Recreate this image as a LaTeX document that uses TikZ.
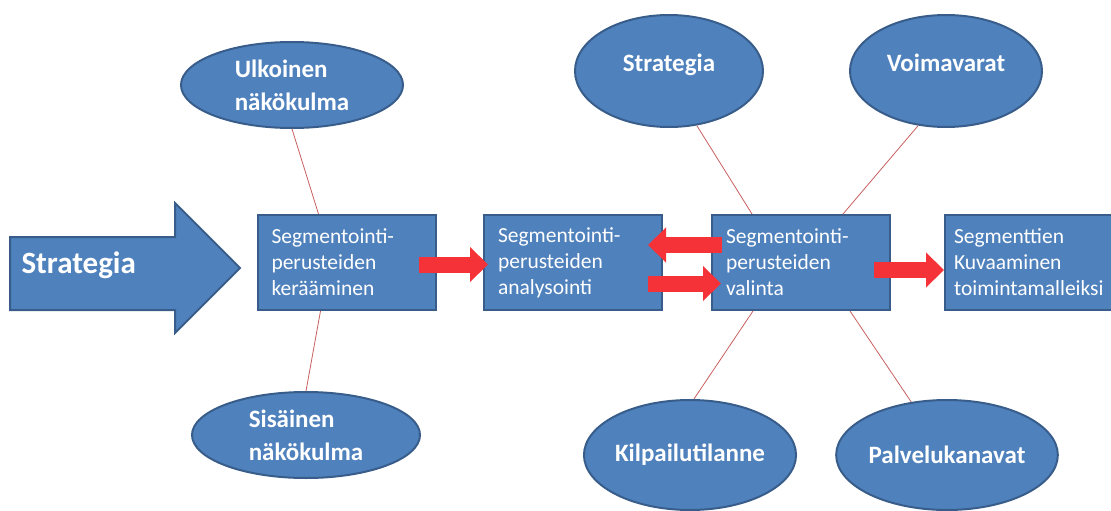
\documentclass[tikz,border=0pt]{standalone}
\usepackage{fontspec}
\setmainfont{Carlito}
\usetikzlibrary{shapes.geometric,arrows.meta}
\definecolor{boxblue}{RGB}{79,129,189}
\definecolor{edgeblue}{RGB}{56,93,138}
\definecolor{linkred}{RGB}{200,95,95}
\definecolor{arrowred}{RGB}{245,50,55}
\begin{document}
\begin{tikzpicture}[x=1pt, y=-1pt,
    stepbox/.style={draw=edgeblue, line width=2pt, fill=boxblue, text=white,
      minimum width=178pt, minimum height=95pt, text width=150pt, inner xsep=14pt,
      align=left, font=\fontsize{21.5}{26}\selectfont},
    view/.style={ellipse, draw=edgeblue, line width=2pt, fill=boxblue, text=white,
      inner sep=0pt, align=left, font=\bfseries\fontsize{25}{33}\selectfont},
    bigarrow/.style={draw=edgeblue, line width=2pt, fill=boxblue},
    link/.style={draw=linkred, line width=0.8pt},
    flow/.style={draw=arrowred, line width=16pt, -{Triangle[width=34pt,length=18pt]}}]
  \useasboundingbox (0,0) rectangle (1111,511);
  \draw[bigarrow] (10,237) -- (175,237) -- (175,203) -- (240,268) -- (175,333) -- (175,310) -- (10,310) -- cycle;
  \node[anchor=west, text=white, font=\bfseries\fontsize{31}{37}\selectfont] (input) at (18,265) {Strategia};
  \node[stepbox] (collect) at (346.5,262.5) {Segmentointi-\\perusteiden\\kerääminen};
  \node[stepbox] (analyse) at (573,262.5) {Segmentointi-\\perusteiden\\analysointi};
  \node[stepbox] (choose) at (801,262.5) {Segmentointi-\\perusteiden\\valinta};
  \node[stepbox, text width=160pt, inner xsep=9pt] (describe) at (1034,262.5) {Segmenttien\\Kuvaaminen\\toimintamalleiksi};
  \node[view, minimum width=222pt, minimum height=86pt] (outer) at (292,85) {Ulkoinen\\näkökulma};
  \node[view, minimum width=228pt, minimum height=86pt] (inner) at (306,435) {Sisäinen\\näkökulma};
  \node[view, minimum width=188pt, minimum height=112pt, text depth=16pt] (strat) at (669,71) {Strategia};
  \node[view, minimum width=192pt, minimum height=112pt, text depth=16pt] (power) at (946,71) {Voimavarat};
  \node[view, minimum width=190pt, minimum height=110pt] (rivals) at (690,455) {Kilpailutilanne};
  \node[view, minimum width=190pt, minimum height=110pt] (channels) at (947,455) {Palvelukanavat};
  \draw[link] (outer.south) -- ([xshift=-28pt]collect.north);
  \draw[link] ([xshift=-26pt]collect.south) -- (inner.north);
  \draw[link] (strat.-63) -- ([xshift=-49pt]choose.north);
  \draw[link] (power.-117) -- ([xshift=42pt]choose.north);
  \draw[link] ([xshift=-48pt]choose.south) -- (rivals.86);
  \draw[link] ([xshift=49pt]choose.south) -- (channels.124);
  \draw[flow] ([xshift=-18pt,yshift=-2pt]collect.east) -- ([xshift=5pt,yshift=-2pt]analyse.west);
  \draw[flow] ([xshift=11pt,yshift=17.5pt]choose.west) -- ([xshift=-15pt,yshift=17.5pt]analyse.east);
  \draw[flow] ([xshift=-15pt,yshift=-21pt]analyse.east) -- ([xshift=10pt,yshift=-21pt]choose.west);
  \draw[flow] ([xshift=-17pt,yshift=-7.5pt]choose.east) -- (describe.west |- 0,270);
\end{tikzpicture}
\end{document}
